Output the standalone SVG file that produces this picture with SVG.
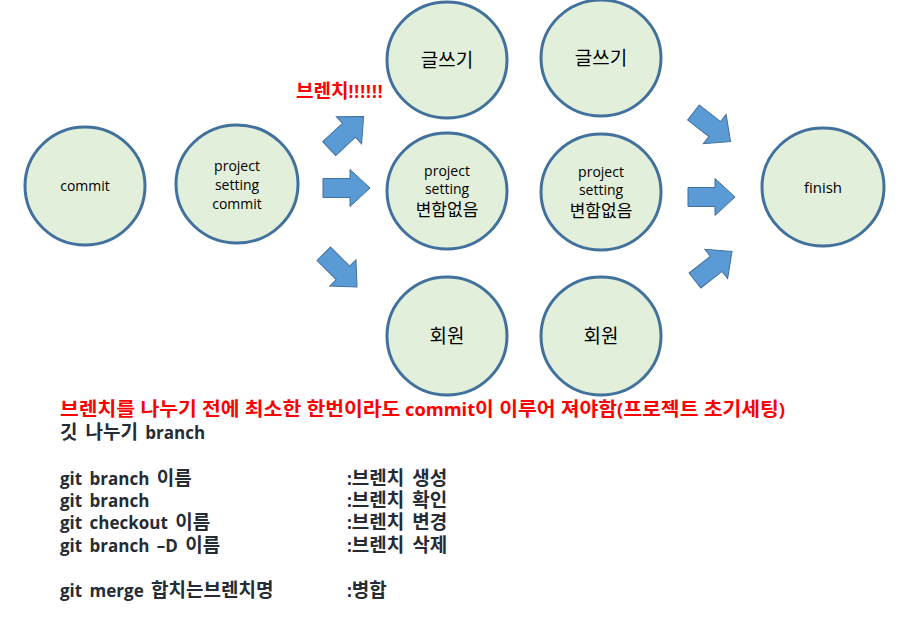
<svg xmlns="http://www.w3.org/2000/svg" width="918" height="620" viewBox="0 0 918 620">
<defs>
<style>
.node{fill:#E2EFDA;stroke:#41719C;stroke-width:3}
.arr{fill:#5B9BD5;stroke:#41719C;stroke-width:1}
.t{font-family:"Open Sans","Noto Sans CJK KR",sans-serif;fill:#000;text-anchor:middle}
.s{font-size:14px}
.k{font-size:19px}
.km{font-size:17px}
.red{font-family:"Open Sans","Noto Sans CJK KR",sans-serif;font-weight:bold;fill:#FF0000;font-size:17px}
.b{font-family:"Open Sans","Noto Sans CJK KR",sans-serif;font-weight:bold;fill:#262c35;font-size:17px;word-spacing:3px}
.h{font-size:19px}
</style>
<path id="ar" d="M-23.5,-9.5 L3.5,-9.5 L3.5,-18.5 L23.5,0 L3.5,18.5 L3.5,9.5 L-23.5,9.5 Z"/>
</defs>
<rect width="918" height="620" fill="#fff"/>
<g id="connectors">
<use href="#ar" class="arr" transform="translate(346.4,132.6) rotate(-43)"/>
<use href="#ar" class="arr" transform="translate(346.5,188)"/>
<use href="#ar" class="arr" transform="translate(340.4,270.4) rotate(45)"/>
<use href="#ar" class="arr" transform="translate(712,127) rotate(38)"/>
<use href="#ar" class="arr" transform="translate(711.5,197)"/>
<use href="#ar" class="arr" transform="translate(713.5,266) rotate(-38)"/>
</g>
<g id="n-commit"><ellipse class="node" cx="85" cy="186" rx="60" ry="59"/><text class="t s" x="85" y="191">commit</text></g>
<g id="n-setting"><ellipse class="node" cx="237" cy="184" rx="61" ry="59"/><text class="t s" x="237" y="171">project</text><text class="t s" x="237" y="190">setting</text><text class="t s" x="237" y="209">commit</text></g>
<g id="n-write1"><ellipse class="node" cx="447" cy="60" rx="60" ry="58"/><text class="t k" x="447" y="67">글쓰기</text></g>
<g id="n-write2"><ellipse class="node" cx="601" cy="58" rx="60" ry="58"/><text class="t k" x="601" y="65">글쓰기</text></g>
<g id="n-mid1"><ellipse class="node" cx="447" cy="191" rx="60" ry="58"/><text class="t s" x="447" y="176">project</text><text class="t s" x="447" y="194">setting</text><text class="t km" x="447" y="216">변함없음</text></g>
<g id="n-mid2"><ellipse class="node" cx="601" cy="192" rx="60" ry="58"/><text class="t s" x="601" y="177">project</text><text class="t s" x="601" y="195">setting</text><text class="t km" x="601" y="217">변함없음</text></g>
<g id="n-member1"><ellipse class="node" cx="447" cy="336" rx="60" ry="59"/><text class="t k" x="447" y="343">회원</text></g>
<g id="n-member2"><ellipse class="node" cx="601" cy="336" rx="60" ry="59"/><text class="t k" x="601" y="343">회원</text></g>
<g id="n-finish"><ellipse class="node" cx="823" cy="187" rx="61" ry="59"/><text class="t" style="font-size:15px" x="823" y="193">finish</text></g>
<text class="red" x="296" y="98"><tspan class="h">브렌치</tspan><tspan letter-spacing="1">!!!!!!</tspan></text>
<text class="red" x="60" y="416" textLength="725" lengthAdjust="spacingAndGlyphs"><tspan class="h">브렌치를 나누기 전에 최소한 한번이라도</tspan> commit<tspan class="h">이 이루어 져야함</tspan>(<tspan class="h">프로젝트 초기세팅</tspan>)</text>
<text class="b" x="60" y="439"><tspan class="h">깃 나누기</tspan> branch</text>
<text class="b" x="60" y="485">git branch <tspan class="h">이름</tspan></text>
<text class="b" x="60" y="507">git branch</text>
<text class="b" x="60" y="529">git checkout <tspan class="h">이름</tspan></text>
<text class="b" x="60" y="552">git branch –D <tspan class="h">이름</tspan></text>
<text class="b" x="60" y="597">git merge <tspan class="h">합치는브렌치명</tspan></text>
<text class="b" x="347" y="485">:<tspan class="h">브렌치 생성</tspan></text>
<text class="b" x="347" y="507">:<tspan class="h">브렌치 확인</tspan></text>
<text class="b" x="347" y="529">:<tspan class="h">브렌치 변경</tspan></text>
<text class="b" x="347" y="552">:<tspan class="h">브렌치 삭제</tspan></text>
<text class="b" x="347" y="597">:<tspan class="h">병합</tspan></text>
</svg>
